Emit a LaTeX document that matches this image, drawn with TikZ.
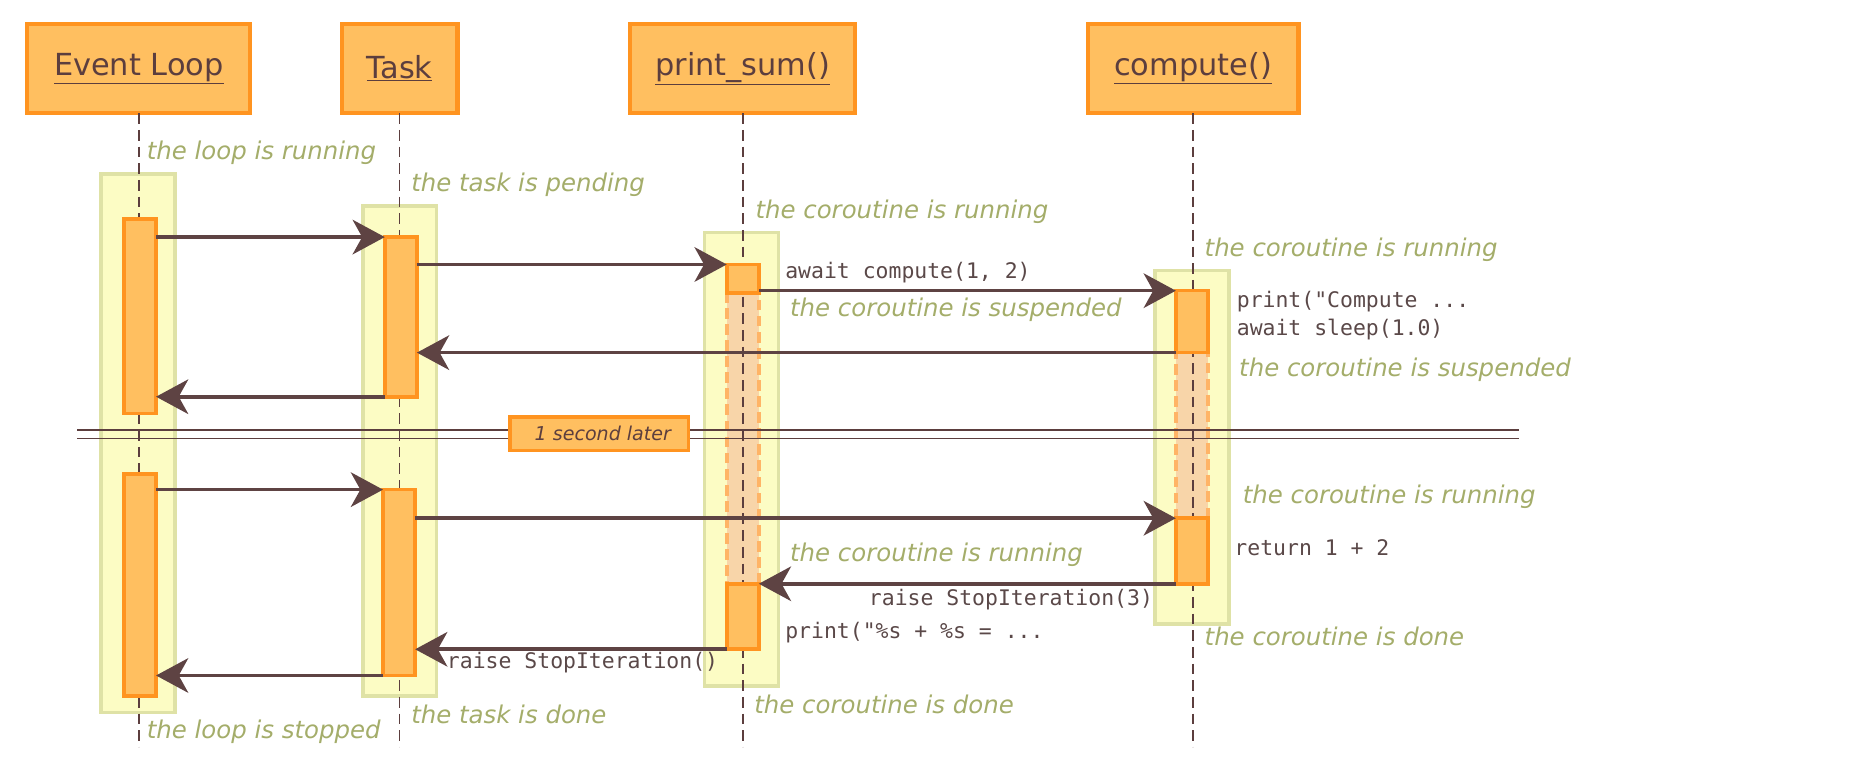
\documentclass[tikz,border=0pt]{standalone}
\usepackage{fontspec}
\setmainfont{DejaVu Sans}
\newfontfamily\codefont{DejaVu Sans Mono}
\usetikzlibrary{arrows.meta}

\definecolor{hdrfill}{HTML}{FFBF60}
\definecolor{hdrdraw}{HTML}{FF9420}
\definecolor{inkbrown}{HTML}{5C3E3E}
\definecolor{arrowbrown}{HTML}{5E4343}
\definecolor{framefill}{HTML}{FCFCC4}
\definecolor{framedraw}{HTML}{DFE2A6}
\definecolor{notegreen}{HTML}{A4AD6A}
\definecolor{idlefill}{HTML}{F8D5A9}
\definecolor{idledraw}{HTML}{FFB466}
\definecolor{codebrown}{HTML}{5A4848}

\tikzset{
  actor/.style={rectangle, draw=hdrdraw, fill=hdrfill, line width=3.5pt, inner sep=0pt, outer sep=0pt,
    minimum height=75pt, text=inkbrown, font=\fontsize{25.5}{30}\selectfont},
  frame/.style={rectangle, draw=framedraw, fill=framefill, line width=3pt, inner sep=0pt, outer sep=0pt,
    minimum width=62pt},
  active/.style={rectangle, draw=hdrdraw, fill=hdrfill, line width=3pt, inner sep=0pt, outer sep=0pt,
    minimum width=27pt},
  idle/.style={rectangle, draw=idledraw, fill=idlefill, line width=3pt, dash pattern=on 9pt off 4.5pt,
    inner sep=0pt, outer sep=0pt, minimum width=27pt},
  lifeline/.style={draw=inkbrown, line width=1.3pt, dash pattern=on 9pt off 5pt},
  msg/.style={draw=arrowbrown, line width=3pt, -{Stealth[length=27pt, width=29pt, inset=8pt]}},
  sepline/.style={draw=inkbrown, line width=1.3pt},
  note/.style={inner sep=0pt, text=notegreen, font=\itshape\fontsize{20.5}{24}\selectfont},
  code/.style={inner sep=0pt, text=codebrown, font=\codefont\fontsize{18}{22}\selectfont},
  later/.style={rectangle, draw=hdrdraw, fill=hdrfill, line width=3pt, inner sep=0pt, minimum width=150pt,
    minimum height=28pt, text=inkbrown, font=\itshape\fontsize{16}{19}\selectfont}
}

\begin{document}
\begin{tikzpicture}[x=1pt, y=-1pt]
    \useasboundingbox (0,0) rectangle (1568,656);

    % lifetime frames
    \node (elframe) [frame, minimum height=452pt] at (116,372) {};
    \node (tkframe) [frame, minimum height=411pt] at (335.5,378.5) {};
    \node (psframe) [frame, minimum height=381pt] at (622.5,385.5) {};
    \node (cpframe) [frame, minimum height=297pt] at (1000.5,375.5) {};

    % suspended coroutines
    \node (psidle) [idle, minimum height=244pt] at (623.5,368) {};
    \node (cpidle) [idle, minimum height=139pt] at (1000.5,365.5) {};

    % headers
    \node (el) [actor, minimum width=187pt] at (116.5,57.5) {\underline{Event Loop}};
    \node (tk) [actor, minimum width=97pt] at (335.5,57.5) {\underline{Task}};
    \node (ps) [actor, minimum width=189pt] at (623.5,57.5) {\underline{print\_sum()}};
    \node (cp) [actor, minimum width=177pt] at (1001.5,57.5) {\underline{compute()}};

    % lifelines
    \coordinate (bottom) at (0,627);
    \draw [lifeline] (el.south) -- (el.south |- bottom);
    \draw [lifeline] (tk.south) -- (tk.south |- bottom);
    \draw [lifeline] (ps.south) -- (ps.south |- bottom);
    \draw [lifeline] (cp.south) -- (cp.south |- bottom);

    % activations
    \node (el1) [active, minimum height=163pt] at (117.5,265.5) {};
    \node (el2) [active, minimum height=186pt] at (117.5,491) {};
    \node (tk1) [active, minimum height=134pt] at (336.5,266) {};
    \node (tk2) [active, minimum height=156pt] at (335,489) {};
    \node (ps1) [active, minimum height=24pt] at (623.5,234) {};
    \node (ps2) [active, minimum height=55pt] at (623.5,517.5) {};
    \node (cp1) [active, minimum height=52pt] at (1000.5,270) {};
    \node (cp2) [active, minimum height=55pt] at (1000.5,462.5) {};

    % messages
    \coordinate (m1) at (0,199);
    \coordinate (m2) at (0,222);
    \coordinate (m3) at (0,244);
    \coordinate (m4) at (0,296);
    \coordinate (m5) at (0,333);
    \coordinate (m6) at (0,411);
    \coordinate (m7) at (0,435);
    \coordinate (m8) at (0,490);
    \coordinate (m9) at (0,545);
    \coordinate (m10) at (0,567);
    \draw [msg] (el1.east |- m1) -- (tk1.west |- m1);
    \draw [msg] (tk1.east |- m2) -- (ps1.west |- m2);
    \draw [msg] (ps1.east |- m3) -- (cp1.west |- m3);
    \draw [msg] (cp1.west |- m4) -- (tk1.east |- m4);
    \draw [msg] (tk1.west |- m5) -- (el1.east |- m5);
    \draw [msg] (el2.east |- m6) -- (tk2.west |- m6);
    \draw [msg] (tk2.east |- m7) -- (cp2.west |- m7);
    \draw [msg] (cp2.west |- m8) -- (ps2.east |- m8);
    \draw [msg] (ps2.west |- m9) -- (tk2.east |- m9);
    \draw [msg] (tk2.west |- m10) -- (el2.east |- m10);

    % one second later
    \draw [sepline] (65,361) -- (1275,361);
    \draw [sepline] (65,368) -- (1275,368);
    \node (pause) [later] at (503,364) {\hspace{6pt}1 second later};

    % states
    \node (elrun) [note, anchor=base west] at (123,134) {the loop is running};
    \node (tkpend) [note, anchor=base west] at (345,161) {the task is pending};
    \node (psrun) [note, anchor=base west] at (634,183) {the coroutine is running};
    \node (cprun) [note, anchor=base west] at (1011,215) {the coroutine is running};
    \node (pssusp) [note, anchor=base west] at (663,266) {the coroutine is suspended};
    \node (cpsusp) [note, anchor=base west] at (1040,316) {the coroutine is suspended};
    \node (cprun2) [note, anchor=base west] at (1043,423) {the coroutine is running};
    \node (psrun2) [note, anchor=base west] at (663,471) {the coroutine is running};
    \node (cpdone) [note, anchor=base west] at (1011,542) {the coroutine is done};
    \node (psdone) [note, anchor=base west] at (633,599) {the coroutine is done};
    \node (tkdone) [note, anchor=base west] at (345,607) {the task is done};
    \node (elstop) [note, anchor=base west] at (123,620) {the loop is stopped};

    % code
    \node (awaitcp) [code, anchor=base west] at (659,234) {await compute(1, 2)};
    \node (cpprint) [code, anchor=base west] at (1038,258) {print("Compute ...};
    \node (cpsleep) [code, anchor=base west] at (1038,282) {await sleep(1.0)};
    \node (cpret) [code, anchor=base west] at (1036,466) {return 1 + 2};
    \node (raise3) [code, anchor=base east] at (968,508) {raise StopIteration(3)};
    \node (psprint) [code, anchor=base west] at (659,536) {print("\%s + \%s = ...};
    \node (raise0) [code, anchor=base west] at (375,561) {raise StopIteration()};

\end{tikzpicture}
\end{document}
